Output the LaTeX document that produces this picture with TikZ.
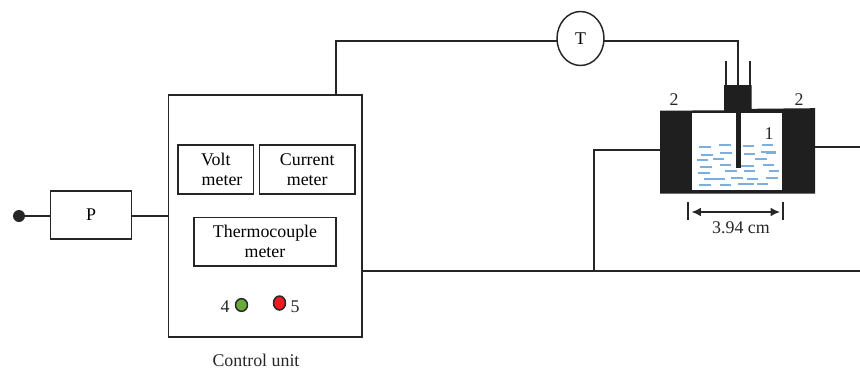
\documentclass[tikz,border=0pt]{standalone}
\usepackage{fontspec}
\setmainfont{Liberation Serif}
\usetikzlibrary{arrows.meta,shapes.geometric}
\definecolor{waterblue}{RGB}{125,175,220}
\definecolor{lampgreen}{RGB}{105,170,60}
\definecolor{lampred}{RGB}{237,28,36}
\tikzset{
  wire/.style={line width=1.1pt, black!85},
  meterbox/.style={draw=black!85, line width=1.1pt, align=center, inner sep=0pt, outer sep=0pt, anchor=north west},
  lamp/.style={ellipse, draw=black!85, line width=1.1pt, inner sep=0pt, outer sep=0pt},
  lbl/.style={inner sep=0pt, text=black!85},
  liquid/.style={line width=0.9pt, waterblue},
  cellfill/.style={fill=black!88, draw=none},
}
\begin{document}
\begin{tikzpicture}[x=0.75pt, y=-0.75pt, font=\fontsize{13.4}{15}\selectfont]
    \useasboundingbox (0,0) rectangle (860,368);
    % Left side
    \node[circle, fill=black!85, minimum size=9pt, inner sep=0pt] (plug) at (19,216) {};
    \node[meterbox, minimum width=60.8pt, minimum height=36pt] (pbox) at (50.5,191) {P};
    \node[meterbox, minimum width=145.2pt, minimum height=181.5pt] (unit) at (168.5,95) {};
    \draw[wire] (plug) -- (pbox.west |- plug);
    \draw[wire] (pbox.east |- plug) -- (unit.west |- plug);
    % Meters
    \node[meterbox, minimum width=56.6pt, minimum height=36.8pt] (volt) at (178,145) {Volt\\\hspace*{9.5pt}meter};
    \node[meterbox, minimum width=71.6pt, minimum height=36.8pt] (current) at (259.5,145) {Current\\meter};
    \node[meterbox, minimum width=106.5pt, minimum height=36.4pt] (thermo) at (194,217.5) {Thermocouple\\meter};
    % Lamps
    \node[lamp, fill=lampgreen, minimum width=9pt, minimum height=9.5pt] (four) at (241.5,305) {};
    \node[lamp, fill=lampred, minimum width=9pt, minimum height=10.5pt] (five) at (279.5,303) {};
    \node[lbl] (lfour) at (225,307) {4};
    \node[lbl] (lfive) at (295,307) {5};
    \node[lbl] (lunit) at (256,360) {Control unit};
    % Thermocouple
    \node[ellipse, draw=black!85, line width=1.1pt, minimum width=35.25pt, minimum height=40.5pt, inner sep=0pt, outer sep=0pt] (tmeter) at (580.5,38.5) {T};
    \coordinate (tleft) at (336,41);
    \coordinate (tright) at (738,41);
    \draw[wire] (unit.north -| tleft) -- (tleft) -- (tmeter.west |- tleft);
    \draw[wire] (tmeter.east |- tright) -- (tright) -- (738,85);
    \draw[wire] (726,61) -- (726,85);
    \draw[wire] (750,61) -- (750,85);
    % Cell
    \path[cellfill] (660,110.7) -- (724,110.3) -- (724,85) -- (751.5,85) -- (751.5,108.8) -- (815,108.2)
      -- (815,193.5) -- (660,193.5) -- cycle;
    \fill[white] (691.7,112.7) rectangle (781.7,190);
    \foreach \xa/\xb/\yy in {
      699/711/147, 719/731/145, 743/754/146, 762/773/145,
      701/713/155, 720/732/153, 744/755/154, 761/776/152, 766/776/153,
      697/708/160, 713/724/159, 755/767/159,
      700/712/167, 720/731/165, 738/754/166, 763/774/165,
      698/710/173, 725/737/171, 744/755/171, 769/779/171,
      704/725/179, 731/743/178, 747/758/179, 766/778/178,
      699/711/185, 720/731/185, 738/754/184, 757/768/184}
      \draw[liquid] (\xa,\yy) -- (\xb,\yy);
    \fill[black!88] (735.7,112) rectangle (740.7,168);
    % Cell labels
    \node[lbl] (ltwoa) at (674,100) {2};
    \node[lbl] (ltwob) at (799,100) {2};
    \node[lbl] (lone) at (769,134) {1};
    % Cell wires
    \coordinate (wirea) at (594,150);
    \coordinate (wireb) at (594,271);
    \coordinate (wirec) at (860,271);
    \coordinate (wired) at (860,147);
    \draw[wire] (660,150) -- (wirea) -- (wireb);
    \draw[wire] (unit.east |- wireb) -- (wirec);
    \draw[wire] (815,147) -- (wired);
    % Width
    \draw[black!85, line width=0.9pt] (688,201.5) -- (688,220);
    \draw[black!85, line width=0.9pt] (783,201.5) -- (783,220);
    \draw[black!85, line width=1.1pt, {Latex[length=7pt,width=6.5pt]}-{Latex[length=7pt,width=6.5pt]}] (691.5,212) -- (780,212);
    \node[lbl] (lwidth) at (741,228) {3.94 cm};
\end{tikzpicture}
\end{document}
